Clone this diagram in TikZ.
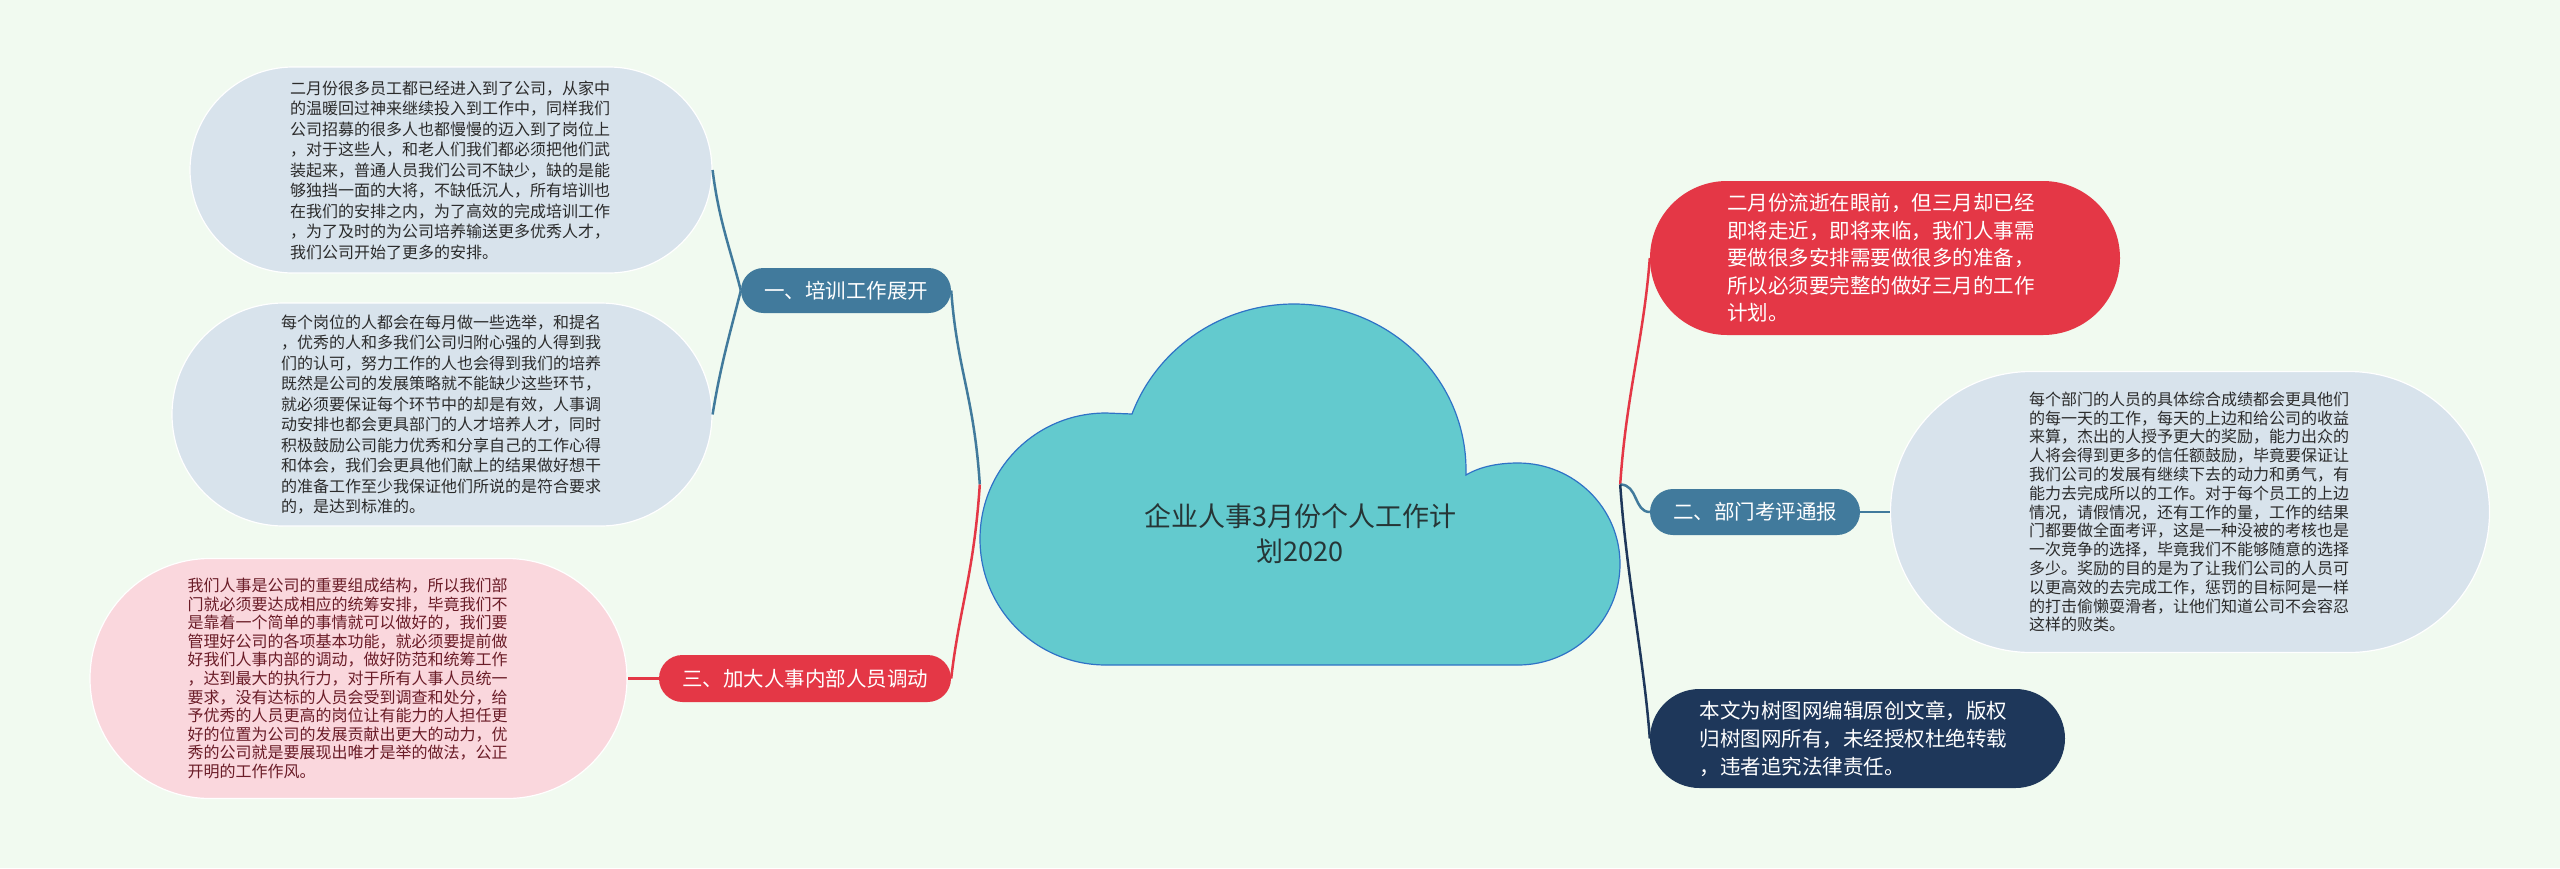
\documentclass[tikz,border=0pt]{standalone}
\usepackage{fontspec}
\setmainfont{Noto Sans CJK SC}
\usepackage{tikz}
\usetikzlibrary{positioning}
\definecolor{bgmint}{HTML}{F1FAF0}
\definecolor{cloudfill}{HTML}{63CACE}
\definecolor{cloudline}{HTML}{2F72C6}
\definecolor{steel}{HTML}{417A9C}
\definecolor{hrred}{HTML}{E43746}
\definecolor{navy}{HTML}{1E375A}
\definecolor{leafgray}{HTML}{D8E3EC}
\definecolor{leafpink}{HTML}{FAD7DD}
\definecolor{pinktext}{HTML}{6A1C27}
\definecolor{leaftext}{HTML}{2B2B2B}
\definecolor{titletext}{HTML}{263536}
\tikzstyle{leaf}=[rectangle, draw=white, line width=1.2pt, fill=leafgray, text=leaftext, inner sep=0pt, text width=322pt, align=left, font=\fontsize{16pt}{20.5pt}\selectfont]
\tikzstyle{branch}=[rectangle, fill=steel, text=white, inner sep=0pt, minimum height=46pt, rounded corners=23pt, font=\fontsize{20.5pt}{24pt}\selectfont]
\tikzstyle{bubble}=[rectangle, inner sep=0pt, text=white, text width=316pt, align=left, font=\fontsize{20.5pt}{27.5pt}\selectfont]
\tikzstyle{link}=[line width=2.5pt]

\begin{document}
\begin{tikzpicture}[x=1pt,y=-1pt]
    \fill[bgmint] (0,0) rectangle (2560,868);
    \useasboundingbox (0,0) rectangle (2560,868);

    \filldraw[fill=cloudfill, draw=cloudline, line width=1.2pt] (1106,665) -- (1518,665)
        .. controls (1574,665) and (1620,620) .. (1620,564)
        .. controls (1620,508) and (1574,463) .. (1518,463)
        .. controls (1500,463) and (1481,466) .. (1466,475) -- (1466,470)
        .. controls (1466,378) and (1389,304) .. (1294,304)
        .. controls (1222,304) and (1157,348) .. (1132,414) -- (1106,413)
        .. controls (1036,413) and (980,469) .. (980,539)
        .. controls (980,609) and (1036,665) .. (1106,665) -- cycle;
    \node [minimum width=640pt, minimum height=361pt, inner sep=0pt] (root) at (1300,484.5) {};
    \node [text=titletext, align=center, font=\fontsize{27pt}{35pt}\selectfont] (title) at (1300,534) {企业人事3月份个人工作计\\划2020};

    \node [branch, minimum width=210pt, minimum height=45pt, rounded corners=22.5pt] (trainBr) at (846,290.5) {一、培训工作展开};
    \node [leaf, minimum width=522pt, minimum height=206pt, rounded corners=103pt] (trainA) at (451,170) {二月份很多员工都已经进入到了公司，从家中\\的温暖回过神来继续投入到工作中，同样我们\\公司招募的很多人也都慢慢的迈入到了岗位上\\，对于这些人，和老人们我们都必须把他们武\\装起来，普通人员我们公司不缺少，缺的是能\\够独挡一面的大将，不缺低沉人，所有培训也\\在我们的安排之内，为了高效的完成培训工作\\，为了及时的为公司培养输送更多优秀人才，\\我们公司开始了更多的安排。};
    \node [leaf, minimum width=540pt, minimum height=223pt, rounded corners=111.5pt] (trainB) at (442,414.5) {每个岗位的人都会在每月做一些选举，和提名\\，优秀的人和多我们公司归附心强的人得到我\\们的认可，努力工作的人也会得到我们的培养\\既然是公司的发展策略就不能缺少这些环节，\\就必须要保证每个环节中的却是有效，人事调\\动安排也都会更具部门的人才培养人才，同时\\积极鼓励公司能力优秀和分享自己的工作心得\\和体会，我们会更具他们献上的结果做好想干\\的准备工作至少我保证他们所说的是符合要求\\的，是达到标准的。};

    \node [branch, fill=hrred, minimum width=292pt, minimum height=47pt, rounded corners=23.5pt] (moveBr) at (805,678.5) {三、加大人事内部人员调动};
    \node [leaf, fill=leafpink, text=pinktext, text width=342pt, minimum width=537pt, minimum height=240pt, rounded corners=120pt, font=\fontsize{16pt}{18.6pt}\selectfont] (moveText) [left of=moveBr, node distance=446.5pt] {我们人事是公司的重要组成结构，所以我们部\\门就必须要达成相应的统筹安排，毕竟我们不\\是靠着一个简单的事情就可以做好的，我们要\\管理好公司的各项基本功能，就必须要提前做\\好我们人事内部的调动，做好防范和统筹工作\\，达到最大的执行力，对于所有人事人员统一\\要求，没有达标的人员会受到调查和处分，给\\予优秀的人员更高的岗位让有能力的人担任更\\好的位置为公司的发展贡献出更大的动力，优\\秀的公司就是要展现出唯才是举的做法，公正\\开明的工作作风。};

    \node [bubble, fill=hrred, minimum width=470pt, minimum height=154pt, rounded corners=77pt] (introText) at (1885,258) {二月份流逝在眼前，但三月却已经\\即将走近，即将来临，我们人事需\\要做很多安排需要做很多的准备，\\所以必须要完整的做好三月的工作\\计划。};
    \node [branch, minimum width=210pt] (evalBr) at (1755,512) {二、部门考评通报};
    \node [leaf, minimum width=599pt, minimum height=281pt, rounded corners=140.5pt, font=\fontsize{16pt}{18.8pt}\selectfont] (evalText) [right of=evalBr, node distance=435pt] {每个部门的人员的具体综合成绩都会更具他们\\的每一天的工作，每天的上边和给公司的收益\\来算，杰出的人授予更大的奖励，能力出众的\\人将会得到更多的信任额鼓励，毕竟要保证让\\我们公司的发展有继续下去的动力和勇气，有\\能力去完成所以的工作。对于每个员工的上边\\情况，请假情况，还有工作的量，工作的结果\\门都要做全面考评，这是一种没被的考核也是\\一次竞争的选择，毕竟我们不能够随意的选择\\多少。奖励的目的是为了让我们公司的人员可\\以更高效的去完成工作，惩罚的目标阿是一样\\的打击偷懒耍滑者，让他们知道公司不会容忍\\这样的败类。};
    \node [bubble, fill=navy, minimum width=415pt, minimum height=99pt, rounded corners=49.5pt, font=\fontsize{20.5pt}{28pt}\selectfont] (noteText) at (1857.5,738.5) {本文为树图网编辑原创文章，版权\\归树图网所有，未经授权杜绝转载\\，违者追究法律责任。};

    \draw[link, steel] (root.west) .. controls +(-6,-90) and +(6,80) .. (trainBr.east);
    \draw[link, hrred] (root.west) .. controls +(-6,90) and +(8,-70) .. (moveBr.east);
    \draw[link, steel] (trainBr.west) .. controls +(-10,-40) and +(6,50) .. (trainA.east);
    \draw[link, steel] (trainBr.west) .. controls +(-10,40) and +(8,-50) .. (trainB.east);
    \draw[link, hrred] (moveBr.west) -- (moveText.east);
    \draw[link, hrred] (root.east) .. controls +(6,-90) and +(-6,80) .. (introText.west);
    \draw[link, steel] (root.east) .. controls +(18,0) and +(-16,0) .. (evalBr.west);
    \draw[link, navy] (root.east) .. controls +(6,90) and +(-6,-80) .. (noteText.west);
    \draw[link, steel] (evalBr.east) -- (evalText.west);
\end{tikzpicture}
\end{document}
